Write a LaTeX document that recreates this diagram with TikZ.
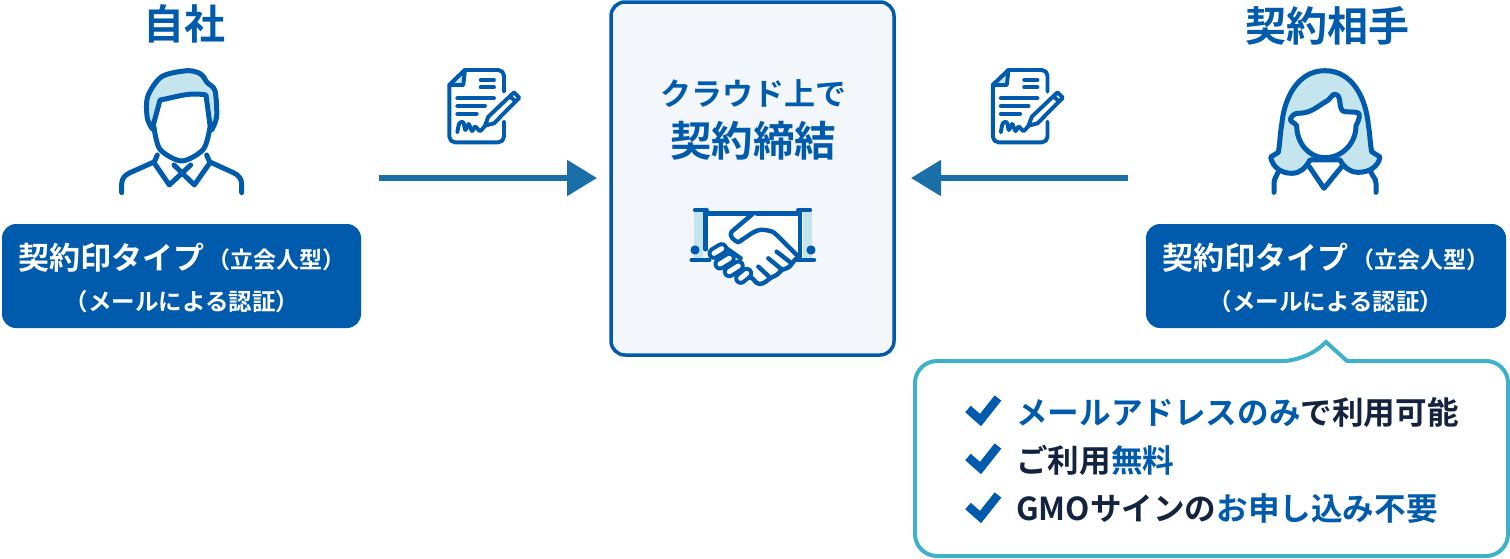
\documentclass[tikz,border=0pt]{standalone}
\usepackage{fontspec}
\setmainfont{Noto Sans CJK JP}[BoldFont=* Bold]
\usepackage{xcolor}
\usepackage{tikz}
\usetikzlibrary{arrows.meta, calc}
\definecolor{gmoblue}{HTML}{005BAC}
\definecolor{flowblue}{HTML}{1B6FA8}
\definecolor{paleblue}{HTML}{C4E5EE}
\definecolor{panelblue}{HTML}{F3F6FB}
\definecolor{tealline}{HTML}{3FB1C9}
\definecolor{inkblue}{HTML}{14233F}
\tikzset{
  iconline/.style={draw=gmoblue, line width=5pt, line cap=round, line join=round},
  titletext/.style={text=gmoblue, font=\fontsize{41}{46}\selectfont\bfseries, inner sep=0pt},
  sealbox/.style={fill=gmoblue, rounded corners=14pt, draw=none},
  sealtext/.style={text=white, inner sep=0pt, font=\bfseries},
  flowarrow/.style={draw=flowblue, line width=5.5pt, -{Triangle[length=30pt,width=35pt]}},
  listtext/.style={anchor=west, inner sep=0pt, text=inkblue, font=\fontsize{31.6}{36}\selectfont\bfseries},
  checkmark/.style={draw=gmoblue, line width=8.5pt, line join=miter},
  capsule/.style={line cap=round}
}
\newcommand{\hl}[1]{\textcolor{gmoblue}{#1}}
\newcommand{\ManIcon}[2]{%
  \begin{scope}[shift={(#1,#2)}, x=0.3333pt, y=-0.3333pt]
    \filldraw[iconline, fill=paleblue] plot[smooth] coordinates {(158,238) (142,205) (143,140) (185,80) (262,62) (302,72) (322,98) (345,122) (350,200) (335,240)} -- (330,225) -- (318,135) to[out=170,in=10] (180,150) -- (160,225) -- cycle;
    \draw[iconline] plot[smooth] coordinates {(162,232) (180,298) (245,333) (310,298) (330,232)};
    \draw[iconline] (172,315) -- (162,338) -- (208,405) -- (272,345);
    \draw[iconline] (320,315) -- (330,338) -- (283,405) -- (222,345);
    \draw[iconline] (65,428) -- (65,402) to[out=90,in=205] (90,368) -- (162,336);
    \draw[iconline] (425,428) -- (425,402) to[out=90,in=-25] (400,368) -- (330,336);
  \end{scope}%
}
\newcommand{\WomanIcon}[2]{%
  \begin{scope}[shift={(#1,#2)}, x=0.3333pt, y=-0.3333pt]
    \draw[iconline] (72,412) -- (72,385) to[out=90,in=-110] (85,350);
    \draw[iconline] (378,412) -- (378,385) to[out=90,in=-70] (362,350);
    \draw[iconline] (178,335) -- (222,400) -- (275,335);
    \filldraw[iconline, fill=paleblue] (62,306) -- (85,292) to[out=80,in=-100] (95,210) to[out=85,in=180] (225,47) to[out=0,in=95] (355,210) to[out=-80,in=100] (365,290) -- (390,306) to[out=-100,in=0] (325,352) to[out=180,in=-60] (270,315) -- (180,315) to[out=-120,in=0] (125,355) to[out=180,in=-80] (62,306) -- cycle;
    \filldraw[iconline, fill=white] (122,190) to[out=60,in=180] (145,175) to[out=0,in=-150] (235,135) to[out=30,in=180] (255,118) to[out=0,in=180] (285,170) -- (320,172) to[out=0,in=60] (318,212) to[out=-90,in=0] (225,308) to[out=180,in=-90] (140,212) to[out=120,in=-120] (122,190) -- cycle;
  \end{scope}%
}
\newcommand{\DocIcon}[2]{%
  \begin{scope}[shift={(#1,#2)}, x=0.3333pt, y=-0.3333pt]
    \def\lw{3.9pt}
    \draw[iconline, line width=\lw] (222,110) -- (222,62) to[out=90,in=0] (205,45) -- (105,45) -- (58,90) -- (58,245) to[out=-90,in=180] (75,262) -- (205,262) to[out=0,in=-90] (222,245) -- (222,200);
    \filldraw[iconline, line width=\lw, fill=paleblue] (58,90) -- (100,90) -- (105,45) -- cycle;
    \draw[iconline, line width=\lw] (152,75) -- (192,75) (152,97) -- (192,97) (82,130) -- (192,130) (82,153) -- (165,153) (82,176) -- (140,176);
    \draw[iconline, line width=\lw] plot[smooth] coordinates {(82,232) (88,205) (100,202) (106,225) (116,207) (126,228) (136,215) (150,228) (165,212)};
    \filldraw[iconline, line width=\lw, fill=white] (165,212) -- (175,185) -- (252,112) -- (268,128) -- (192,205) -- cycle;
    \draw[iconline, line width=\lw] (240,124) -- (257,140);
  \end{scope}%
}
\newcommand{\Finger}[2]{%
  \draw[capsule, gmoblue, line width=13pt] (#1) -- (#2);
  \draw[capsule, white, line width=5pt] (#1) -- (#2);%
}
\newcommand{\ShakeIcon}[2]{%
  \begin{scope}[shift={(#1,#2)}, x=0.3333pt, y=-0.3333pt]
    \fill[paleblue] (72,60) rectangle (100,205);
    \fill[paleblue] (398,60) rectangle (425,205);
    \fill[white] (108,70) rectangle (390,208);
    \def\lw{4.4pt}
    \draw[iconline, line width=\lw] (75,60) -- (110,60) (385,60) -- (420,60);
    \draw[iconline, line width=\lw] (108,70) -- (385,70);
    \draw[iconline, line width=\lw] (107,60) -- (107,178) (390,60) -- (390,205);
    \draw[iconline, line width=\lw] (65,210) -- (118,210) (382,210) -- (432,210);
    \draw[iconline, line width=\lw] (75,180) circle (7);
    \draw[iconline, line width=\lw] (423,180) circle (7);
    % lower hand
    \fill[white] (120,185) -- (150,165) -- (250,70) -- (385,200) -- (365,220) -- (270,282) -- (200,270) -- cycle;
    \draw[iconline, line width=\lw] (385,200) to[out=-135,in=60] (365,222) to[out=-120,in=20] (335,240) to[out=-130,in=20] (305,262) to[out=-150,in=0] (268,282) to[out=180,in=30] (238,264);
    % upper hand
    \draw[iconline, line width=\lw] (250,70) -- (185,125) to[out=-130,in=160] (205,157) -- (245,130) to[out=30,in=170] (285,120) to[out=-10,in=130] (320,135) -- (385,200);
    \draw[iconline, line width=\lw] (165,172) -- (212,205);
    \draw[iconline, line width=\lw] (265,230) -- (295,258) (295,205) -- (335,238) (320,185) -- (365,220);
    \Finger{132,190}{155,176}
    \Finger{150,222}{178,205}
    \Finger{178,245}{205,228}
    \Finger{212,265}{230,250}
  \end{scope}%
}
\newcommand{\Chk}[1]{\draw[checkmark] (968,#1) -- (980.5,#1+11) -- (998,#1-11);}

\begin{document}
\begin{tikzpicture}[x=1pt, y=-1pt]
	\useasboundingbox (0,0) rectangle (1510,558);

	% titles
	\node[titletext] (ownTitle) at (184,24) {自社};
	\node[titletext] (peerTitle) at (1327,26) {契約相手};

	\ManIcon{100}{50}
	\WomanIcon{1250}{55}

	% seal type boxes
	\fill[sealbox] (2,224) rectangle (361,328);
	\fill[sealbox] (1146,224) rectangle (1506,328);
	\node[sealtext, anchor=west, font=\fontsize{31}{36}\selectfont\bfseries] (ownSeal) at (18,258) {契約印タイプ};
	\node[sealtext, anchor=west, font=\fontsize{23}{28}\selectfont\bfseries] (ownKind) at (207,260) {（立会人型）};
	\node[sealtext, font=\fontsize{23.5}{28}\selectfont\bfseries] (ownAuth) at (182,302) {（メールによる認証）};
	\node[sealtext, anchor=west, font=\fontsize{31}{36}\selectfont\bfseries] (peerSeal) at (1162,258) {契約印タイプ};
	\node[sealtext, anchor=west, font=\fontsize{23}{28}\selectfont\bfseries] (peerKind) at (1351,260) {（立会人型）};
	\node[sealtext, font=\fontsize{23.5}{28}\selectfont\bfseries] (peerAuth) at (1326,302) {（メールによる認証）};

	% centre panel
	\filldraw[draw=gmoblue, fill=panelblue, line width=3.5pt, rounded corners=14pt] (611,2) rectangle (894,355);
	\node[text=gmoblue, inner sep=0pt, font=\fontsize{31}{36}\selectfont\bfseries] (cloudText) at (753,94) {クラウド上で};
	\node[text=gmoblue, inner sep=0pt, font=\fontsize{41.5}{46}\selectfont\bfseries] (signText) at (753,141) {契約締結};
	\ShakeIcon{670}{190}

	\DocIcon{430}{55}
	\DocIcon{973.5}{55}

	% arrows
	\coordinate (ownStart) at (379,178);
	\coordinate (ownEnd) at (597,178);
	\coordinate (peerStart) at (1128,178);
	\coordinate (peerEnd) at (911,178);
	\draw[flowarrow] (ownStart) -- (ownEnd);
	\draw[flowarrow] (peerStart) -- (peerEnd);

	% callout
	\draw[draw=tealline, line width=4pt, fill=white, rounded corners=22pt] (915,361) -- (1305,361) [sharp corners] -- (1326,342) -- (1347,361) [rounded corners=22pt] -- (1508,361) -- (1508,556) -- (915,556) -- cycle;

	\Chk{409}
	\Chk{457}
	\Chk{506}
	\node[listtext] (listMail) at (1016,412) {\hl{メールアドレスのみ}で利用可能};
	\node[listtext] (listFree) at (1016,460) {ご利用\hl{無料}};
	\node[listtext] (listApply) at (1016,509) {GMOサインの\hl{お申し込み不要}};
\end{tikzpicture}
\end{document}
